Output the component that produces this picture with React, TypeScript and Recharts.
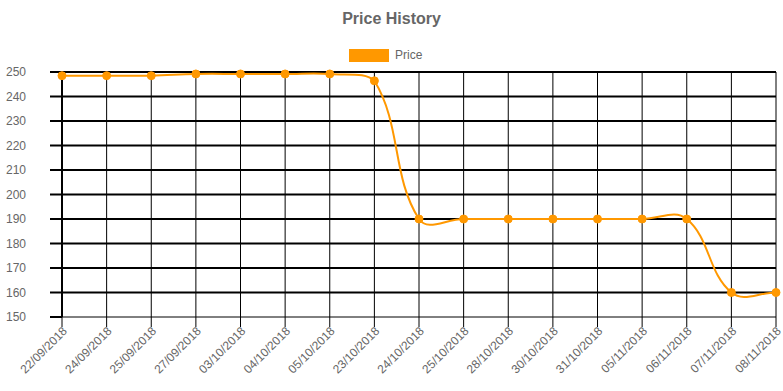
import React from 'react';
import { LineChart, Line, XAxis, YAxis, CartesianGrid, Legend } from 'recharts';

const dates = [
  '22/09/2018', '24/09/2018', '25/09/2018', '27/09/2018', '03/10/2018', '04/10/2018',
  '05/10/2018', '23/10/2018', '24/10/2018', '25/10/2018', '28/10/2018', '30/10/2018',
  '31/10/2018', '05/11/2018', '06/11/2018', '07/11/2018', '08/11/2018',
];
const prices = [248.5, 248.5, 248.5, 249.2, 249.2, 249.2, 249.2, 246.4, 190, 190, 190, 190, 190, 190, 190, 160, 160];
const yTicks = [150, 160, 170, 180, 190, 200, 210, 220, 230, 240, 250];
const gridValues = [160, 170, 180, 190, 200, 210, 220, 230, 240, 250];

const data = dates.map((d, i) => ({ date: d, price: prices[i] }));

const FONT = '"Liberation Sans", Arial, Helvetica, sans-serif';
const ORANGE = '#FF9800';
const TEXT = '#666666';

const W = 783;
const H = 391;
const M_TOP = 72;
const M_LEFT = 12;
const M_RIGHT = 7;
const Y_W = 50;
const X_H = 74;
const AREA = { left: M_LEFT + Y_W, right: W - M_RIGHT, top: M_TOP, bottom: H - X_H };

const clamp = (v: number, lo: number, hi: number) => Math.max(lo, Math.min(hi, v));

// Chart.js-style spline (tension 0.4, control points capped to chart area) as a d3 curve factory
function splineCurve(context: any) {
  let pts: number[][] = [];
  return {
    areaStart() {},
    areaEnd() {},
    lineStart() {
      pts = [];
    },
    point(x: number, y: number) {
      pts.push([+x, +y]);
    },
    lineEnd() {
      const n = pts.length;
      if (!n) return;
      const t = 0.4;
      const cps = pts.map((p, i) => {
        const prev = pts[Math.max(0, i - 1)];
        const next = pts[Math.min(n - 1, i + 1)];
        const d01 = Math.hypot(p[0] - prev[0], p[1] - prev[1]);
        const d12 = Math.hypot(next[0] - p[0], next[1] - p[1]);
        let s01 = d01 / (d01 + d12);
        let s12 = d12 / (d01 + d12);
        if (!isFinite(s01)) s01 = 0;
        if (!isFinite(s12)) s12 = 0;
        const fa = t * s01;
        const fb = t * s12;
        return {
          px: clamp(p[0] - fa * (next[0] - prev[0]), AREA.left, AREA.right),
          py: clamp(p[1] - fa * (next[1] - prev[1]), AREA.top, AREA.bottom),
          nx: clamp(p[0] + fb * (next[0] - prev[0]), AREA.left, AREA.right),
          ny: clamp(p[1] + fb * (next[1] - prev[1]), AREA.top, AREA.bottom),
        };
      });
      context.moveTo(pts[0][0], pts[0][1]);
      for (let i = 1; i < n; i++) {
        context.bezierCurveTo(cps[i - 1].nx, cps[i - 1].ny, cps[i].px, cps[i].py, pts[i][0], pts[i][1]);
      }
    },
  };
}

const XTick = (props: any) => {
  const { x, y, payload } = props;
  return (
    <text
      x={0}
      y={0}
      transform={`translate(${x + 3},${y})rotate(-45)`}
      textAnchor="end"
      dominantBaseline="central"
      fill={TEXT}
      fontSize={12}
      fontFamily={FONT}
    >
      {payload.value}
    </text>
  );
};

const LegendContent = () => (
  <div style={{ display: 'flex', alignItems: 'center', fontFamily: FONT, fontSize: 12, color: TEXT }}>
    <div style={{ width: 40, height: 13, background: ORANGE, marginRight: 6 }} />
    <span>Price</span>
  </div>
);

export default function App() {
  return (
    <div style={{ position: 'absolute', left: 0, top: 0, width: W, height: H, background: '#ffffff' }}>
      <div
        style={{
          position: 'absolute',
          left: 0,
          top: 9,
          width: W,
          textAlign: 'center',
          fontFamily: FONT,
          fontWeight: 'bold',
          fontSize: 16,
          color: TEXT,
          lineHeight: '20px',
        }}
      >
        Price History
      </div>
      <LineChart width={W} height={H} data={data} margin={{ top: M_TOP, right: M_RIGHT, bottom: 0, left: M_LEFT }}>
        <CartesianGrid horizontal={false} vertical={true} stroke="#000" strokeWidth={1} />
        <CartesianGrid horizontal={true} vertical={false} horizontalValues={gridValues} stroke="#000" strokeWidth={2} />
        <XAxis
          dataKey="date"
          interval={0}
          height={X_H}
          tickSize={10}
          tickMargin={2}
          axisLine={{ stroke: '#000', strokeWidth: 1 }}
          tickLine={{ stroke: '#000', strokeWidth: 1 }}
          tick={<XTick />}
        />
        <YAxis
          domain={[150, 250]}
          ticks={yTicks}
          interval={0}
          width={Y_W}
          tickSize={12}
          tickMargin={24}
          axisLine={{ stroke: '#000', strokeWidth: 2 }}
          tickLine={{ stroke: '#000', strokeWidth: 2 }}
          tick={{ fill: TEXT, fontSize: 12, fontFamily: FONT }}
        />
        <Legend
          layout="horizontal"
          verticalAlign="middle"
          align="center"
          wrapperStyle={{ top: 48, left: 349, width: 120, height: 14 }}
          content={<LegendContent />}
        />
        <Line
          type={splineCurve as any}
          dataKey="price"
          name="Price"
          stroke={ORANGE}
          strokeWidth={2}
          dot={{ r: 4, fill: ORANGE, stroke: ORANGE, strokeWidth: 1 }}
          activeDot={false}
          isAnimationActive={false}
        />
      </LineChart>
    </div>
  );
}
